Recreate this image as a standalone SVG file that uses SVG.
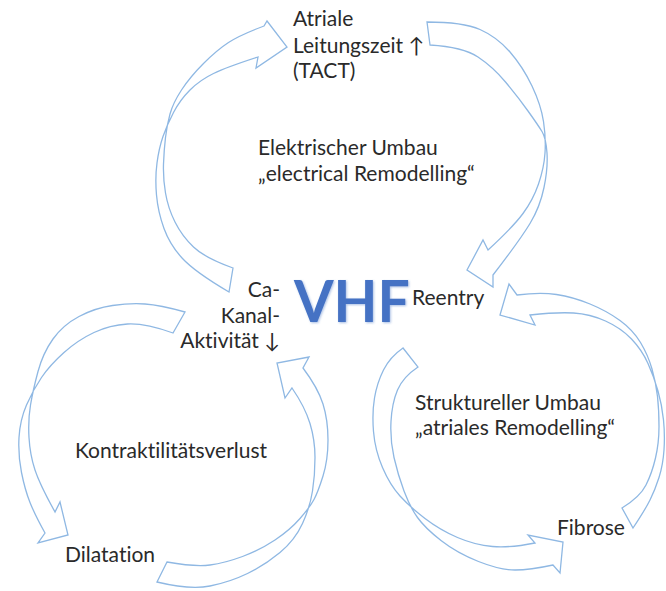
<svg xmlns="http://www.w3.org/2000/svg" width="666" height="591" viewBox="0 0 666 591">
<defs>
<style>
.arr{fill:none;stroke:#8FB8E3;stroke-width:1.3;stroke-linejoin:miter}
.t{font-family:"Lato","DejaVu Sans",sans-serif;font-size:21px;fill:#2a2a2a;font-variant-ligatures:none;font-feature-settings:"liga" 0,"clig" 0}
.r{text-anchor:end}
.vhf{font-family:"Lato","Liberation Sans",sans-serif;font-size:57px;font-weight:bold;fill:#4472C4}
</style>
<filter id="glow" x="-20%" y="-20%" width="140%" height="140%">
<feGaussianBlur in="SourceAlpha" stdDeviation="1.2" result="b"/>
<feFlood flood-color="#4472C4" flood-opacity="0.45"/>
<feComposite in2="b" operator="in" result="s"/>
<feOffset dx="1" dy="1" result="so"/>
<feMerge><feMergeNode in="so"/><feMergeNode in="SourceGraphic"/></feMerge>
</filter>
</defs>
<rect width="666" height="591" fill="#ffffff"/>
<g id="connectors">
<path class="arr" d="M229,292 Q195,272 182.5,258.5 Q170,245 164,228.5 Q158,212 156.5,195 Q155,178 157,163 Q159,148 163,136.5 Q167,125 173.5,112.5 Q180,100 190,90 Q200,80 213.5,73.5 Q227,67 258,57 L256,68 L287,47 L267,21 L264,26 Q240,35 228.5,42.5 Q217,50 203.5,63.5 Q190,77 181.5,90 Q173,103 170,114 Q167,125 165.5,137.5 Q164,150 163.5,164 Q163,178 165.5,193 Q168,208 175,222 Q182,236 193.5,247 Q205,258 233,268 Z"/>
<path class="arr" d="M427,22 Q463,22 480,29.5 Q497,37 510,52 Q523,67 532,86 Q541,105 543.5,121.5 Q546,138 545,153 Q544,168 538.5,184 Q533,200 523,213.5 Q513,227 488,250 L483,240 L467,270 L493,287 L493,275 Q520,240 530,223.5 Q540,207 544,187.5 Q548,168 547,153 Q546,138 542,131.5 Q538,125 528,111 Q518,97 505.5,82 Q493,67 478,57 Q463,47 430,45 Z"/>
<path class="arr" d="M622,508 Q640,497 646,485 Q652,473 655.5,458 Q659,443 659,426.5 Q659,410 657.5,396.5 Q656,383 652,369 Q648,355 640.5,342.5 Q633,330 620,320.5 Q607,311 590,304 Q573,297 556.5,294.5 Q540,292 517,295 L509,284 L500,315 L535,325 L530,315 Q557,312 573.5,313 Q590,314 605.5,321 Q621,328 631.5,339 Q642,350 648,363.5 Q654,377 658,391 Q662,405 663.5,420 Q665,435 664,450 Q663,465 659,477.5 Q655,490 650,500 Q645,510 633,528 Z"/>
<path class="arr" d="M403,348 Q390,357 383.5,370 Q377,383 374.5,398 Q372,413 373.5,431.5 Q375,450 382.5,467.5 Q390,485 400,496 Q410,507 425,518.5 Q440,530 457.5,537.5 Q475,545 492.5,546.5 Q510,548 535,543 L528,535 L563,542 L560,573 L553,565 Q530,570 515,570 Q500,570 478.5,561.5 Q457,553 441,540.5 Q425,528 417.5,517.5 Q410,507 404,491 Q398,475 394,457.5 Q390,440 391,421.5 Q392,403 397.5,390 Q403,377 418,367 Z"/>
<path class="arr" d="M185,312 Q160,305 145,304 Q130,303 112.5,305.5 Q95,308 79,316.5 Q63,325 53,339 Q43,353 38,371.5 Q33,390 30.5,405 Q28,420 29,437.5 Q30,455 35,470 Q40,485 55,512 L60,502 L68,535 L38,543 L45,533 Q35,515 30,502.5 Q25,490 21.5,472.5 Q18,455 19,437.5 Q20,420 26.5,405 Q33,390 41.5,377.5 Q50,365 64,352.5 Q78,340 94,332.5 Q110,325 127.5,324 Q145,323 173,333 Z"/>
<path class="arr" d="M167,562 Q195,567 210,565 Q225,563 242.5,556.5 Q260,550 275,540 Q290,530 300,518.5 Q310,507 314,499.5 Q318,492 323,476 Q328,460 328,440 Q328,420 323,404 Q318,388 303,368 L309,357 L277,363 L285,398 L292,388 Q305,407 310,423.5 Q315,440 315,457.5 Q315,475 312.5,491 Q310,507 302.5,523.5 Q295,540 280,552.5 Q265,565 247.5,573.5 Q230,582 210,586 Q190,590 157,582 Z"/>
</g>
<g id="vhf"><text class="vhf" x="294" y="322" filter="url(#glow)">VHF</text></g>
<g id="tact"><text class="t" x="293" y="26">Atriale</text><text class="t" x="293" y="53">Leitungszeit ↑</text><text class="t" x="293" y="78">(TACT)</text></g>
<g id="elektrisch"><text class="t" x="258" y="155">Elektrischer Umbau</text><text class="t" x="258" y="181">„electrical Remodelling“</text></g>
<g id="reentry"><text class="t" x="412" y="305">Reentry</text></g>
<g id="ca"><text class="t r" x="280" y="297">Ca-</text><text class="t r" x="280" y="323">Kanal-</text><text class="t r" x="280" y="348">Aktivität ↓</text></g>
<g id="strukturell"><text class="t" x="415" y="410">Struktureller Umbau</text><text class="t" x="415" y="435">„atriales Remodelling“</text></g>
<g id="fibrose"><text class="t" x="557" y="535">Fibrose</text></g>
<g id="kontraktil"><text class="t" x="75" y="458">Kontraktilitätsverlust</text></g>
<g id="dilatation"><text class="t" x="65" y="562">Dilatation</text></g>
</svg>
